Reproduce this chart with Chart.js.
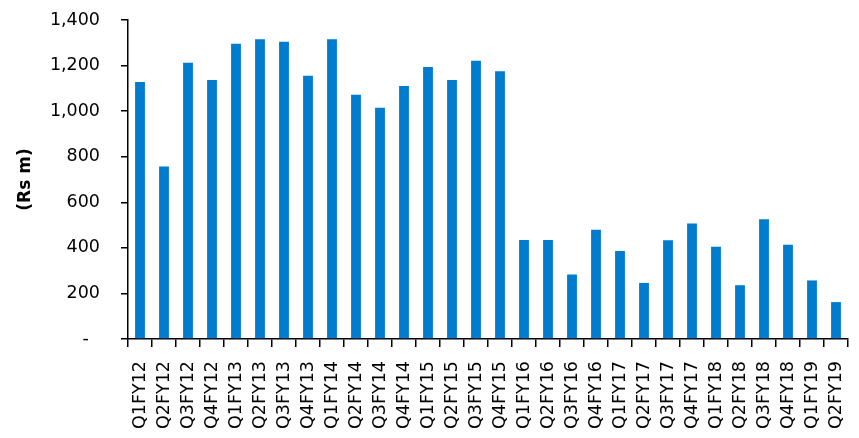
<!DOCTYPE html>
<html>
<head>
<meta charset="utf-8">
<script src="https://cdn.jsdelivr.net/npm/chart.js@4"></script>
<style>
  html, body { margin: 0; padding: 0; background: #fff; }
  #wrap { width: 859px; height: 438px; }
</style>
</head>
<body>
<div id="wrap"><canvas id="chart" width="859" height="438"></canvas></div>
<script>
// quarters on the x axis
const quarters = [
  'Q1FY12', 'Q2FY12', 'Q3FY12', 'Q4FY12',
  'Q1FY13', 'Q2FY13', 'Q3FY13', 'Q4FY13',
  'Q1FY14', 'Q2FY14', 'Q3FY14', 'Q4FY14',
  'Q1FY15', 'Q2FY15', 'Q3FY15', 'Q4FY15',
  'Q1FY16', 'Q2FY16', 'Q3FY16', 'Q4FY16',
  'Q1FY17', 'Q2FY17', 'Q3FY17', 'Q4FY17',
  'Q1FY18', 'Q2FY18', 'Q3FY18', 'Q4FY18',
  'Q1FY19', 'Q2FY19'
];

// values (Rs m)
const values = [
  1128, 757, 1212, 1137,
  1296, 1315, 1305, 1155,
  1315, 1072, 1015, 1110,
  1194, 1137, 1221, 1175,
  435, 435, 283, 480,
  386, 246, 433, 507,
  405, 236, 526, 414,
  257, 162
];

const yTicks = [0, 200, 400, 600, 800, 1000, 1200, 1400];

const tickFont = { family: 'DejaVu Sans', size: 17.5 };

new Chart(document.getElementById('chart'), {
  type: 'bar',
  data: {
    labels: quarters,
    datasets: [{
      data: values,
      backgroundColor: '#007CCF',
      barPercentage: 0.41,
      categoryPercentage: 1
    }]
  },
  options: {
    responsive: false,
    animation: false,
    layout: { padding: { top: 20, right: 11, bottom: 0, left: 0 } },
    plugins: { legend: { display: false }, tooltip: { enabled: false } },
    scales: {
      x: {
        grid: { display: true, drawOnChartArea: false, offset: true, color: '#000', lineWidth: 1.5, tickLength: 8 },
        border: { color: '#000', width: 1.5 },
        ticks: { color: '#000', font: tickFont, minRotation: 90, maxRotation: 90, padding: 14, autoSkip: false },
        afterFit: function(scale) {
          scale.height = 99;
          scale.paddingLeft = 0;
          scale.paddingRight = 0;
        }
      },
      y: {
        min: 0,
        max: 1400,
        afterBuildTicks: function(scale) { scale.ticks = yTicks.map(v => ({ value: v })); },
        grid: { display: true, drawOnChartArea: false, color: '#000', lineWidth: 1.5, tickLength: 7 },
        border: { color: '#000', width: 1.5 },
        ticks: {
          color: '#000',
          font: tickFont,
          padding: 21,
          callback: function(v) { return v === 0 ? '-  ' : v.toLocaleString('en-US'); }
        },
        title: {
          display: true,
          text: '(Rs m)',
          color: '#000',
          font: { family: 'DejaVu Sans', size: 17, weight: 'bold' },
          padding: { top: 15, bottom: 0 }
        },
        afterFit: function(scale) {
          scale.width = 128;
          // tick padding would otherwise push the plot top down
          scale.paddingTop = 10;
          scale.paddingBottom = 10;
        }
      }
    }
  }
});
</script>
</body>
</html>
